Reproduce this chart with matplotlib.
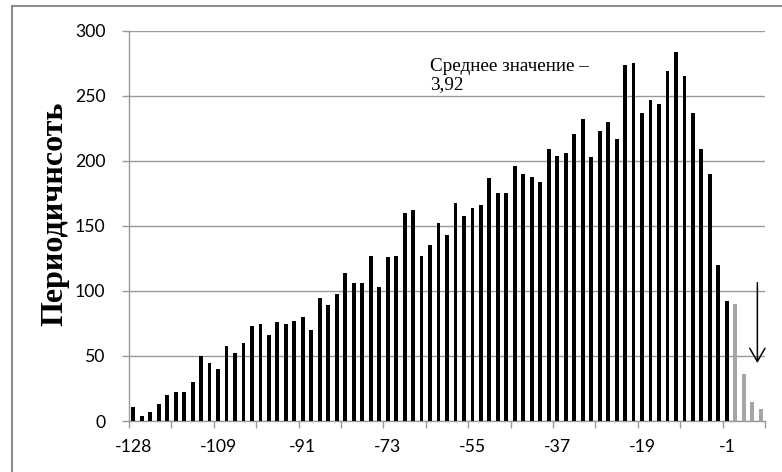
import matplotlib
matplotlib.use("Agg")
import matplotlib.pyplot as plt
from matplotlib.lines import Line2D
import numpy as np

# ---- data ----
values = [11, 4, 7, 13, 20, 22, 22, 30, 50, 45, 40, 58, 52, 60, 73, 75, 66, 76, 75, 77,
          80, 70, 95, 89, 98, 114, 106, 106, 127, 103, 126, 127, 160, 162, 127, 135, 152,
          143, 168, 158, 164, 166, 187, 175, 175, 196, 190, 188, 184, 209, 204, 206, 221,
          232, 203, 223, 230, 217, 274, 275, 237, 247, 244, 269, 284, 265, 237, 209, 190,
          120, 92, 90, 36, 15, 9]
n_highlight = 4            # last bars drawn in grey
tick_labels = ["-128", "-109", "-91", "-73", "-55", "-37", "-19", "-1"]
label_step = 10
y_ticks = [0, 50, 100, 150, 200, 250, 300]
y_label = "Периодичнсоть"
note_text = "Среднее значение –\n3,92"

W, H = 782, 472
fig = plt.figure(figsize=(W / 100, H / 100), dpi=100)
ax = fig.add_axes([129 / W, 1 - 421 / H, (765 - 129) / W, (421 - 31) / H])

n = len(values)
x = np.arange(n)
colors = ["black"] * (n - n_highlight) + ["#a6a6a6"] * n_highlight
ax.bar(x, values, width=0.45, color=colors, zorder=3)

ax.set_xlim(-0.5, n - 0.5)
ax.set_ylim(0, 300)

gridc = "#9a9a9a"
ax.set_yticks(y_ticks)
ax.yaxis.grid(True, color=gridc, linewidth=1.0, zorder=0)
ax.set_axisbelow(True)

# category-boundary tick marks
ax.set_xticks(np.arange(-0.5, n, 5))
ax.set_xticklabels([])
ax.tick_params(axis="x", which="major", length=5, color=gridc, width=1.0, direction="out")
# labels at bar centres
ax.set_xticks(np.arange(0, n, label_step)[:len(tick_labels)], minor=True)
ax.set_xticklabels(tick_labels, minor=True, fontsize=12.7, family="Lato")
ax.tick_params(axis="x", which="minor", length=0, pad=13)

ax.tick_params(axis="y", length=5, color=gridc, width=1.0, pad=12,
               labelsize=12.7)
for lab in ax.get_yticklabels():
    lab.set_family("Lato")

for s in ["top", "right"]:
    ax.spines[s].set_visible(False)
for s in ["left", "bottom"]:
    ax.spines[s].set_color(gridc)
    ax.spines[s].set_linewidth(1.0)

# y label
fig.text(55 / W, 1 - 214 / H, y_label, rotation=90, ha="center", va="center",
         fontsize=23, fontweight="bold", family="Liberation Serif")

# annotation
ax.text(35.0, 279, note_text, ha="left", va="top", fontsize=13.8,
        family="Liberation Serif", linespacing=1.05)

# arrow
ax.annotate("", xy=(73.6, 44.6), xytext=(73.6, 106.4),
            arrowprops=dict(arrowstyle="->,head_length=0.95,head_width=0.55",
                            color="black", lw=1.1, shrinkA=0, shrinkB=0),
            annotation_clip=False)

# outer frame (cropped)
framec = "#8c8c8c"
fig.add_artist(Line2D([12 / W, 1], [1 - 6 / H, 1 - 6 / H], color=framec, lw=1.5,
                      transform=fig.transFigure))
fig.add_artist(Line2D([12 / W, 12 / W], [0, 1 - 6 / H], color=framec, lw=1.5,
                      transform=fig.transFigure))

fig.savefig("out.png", dpi=100)
